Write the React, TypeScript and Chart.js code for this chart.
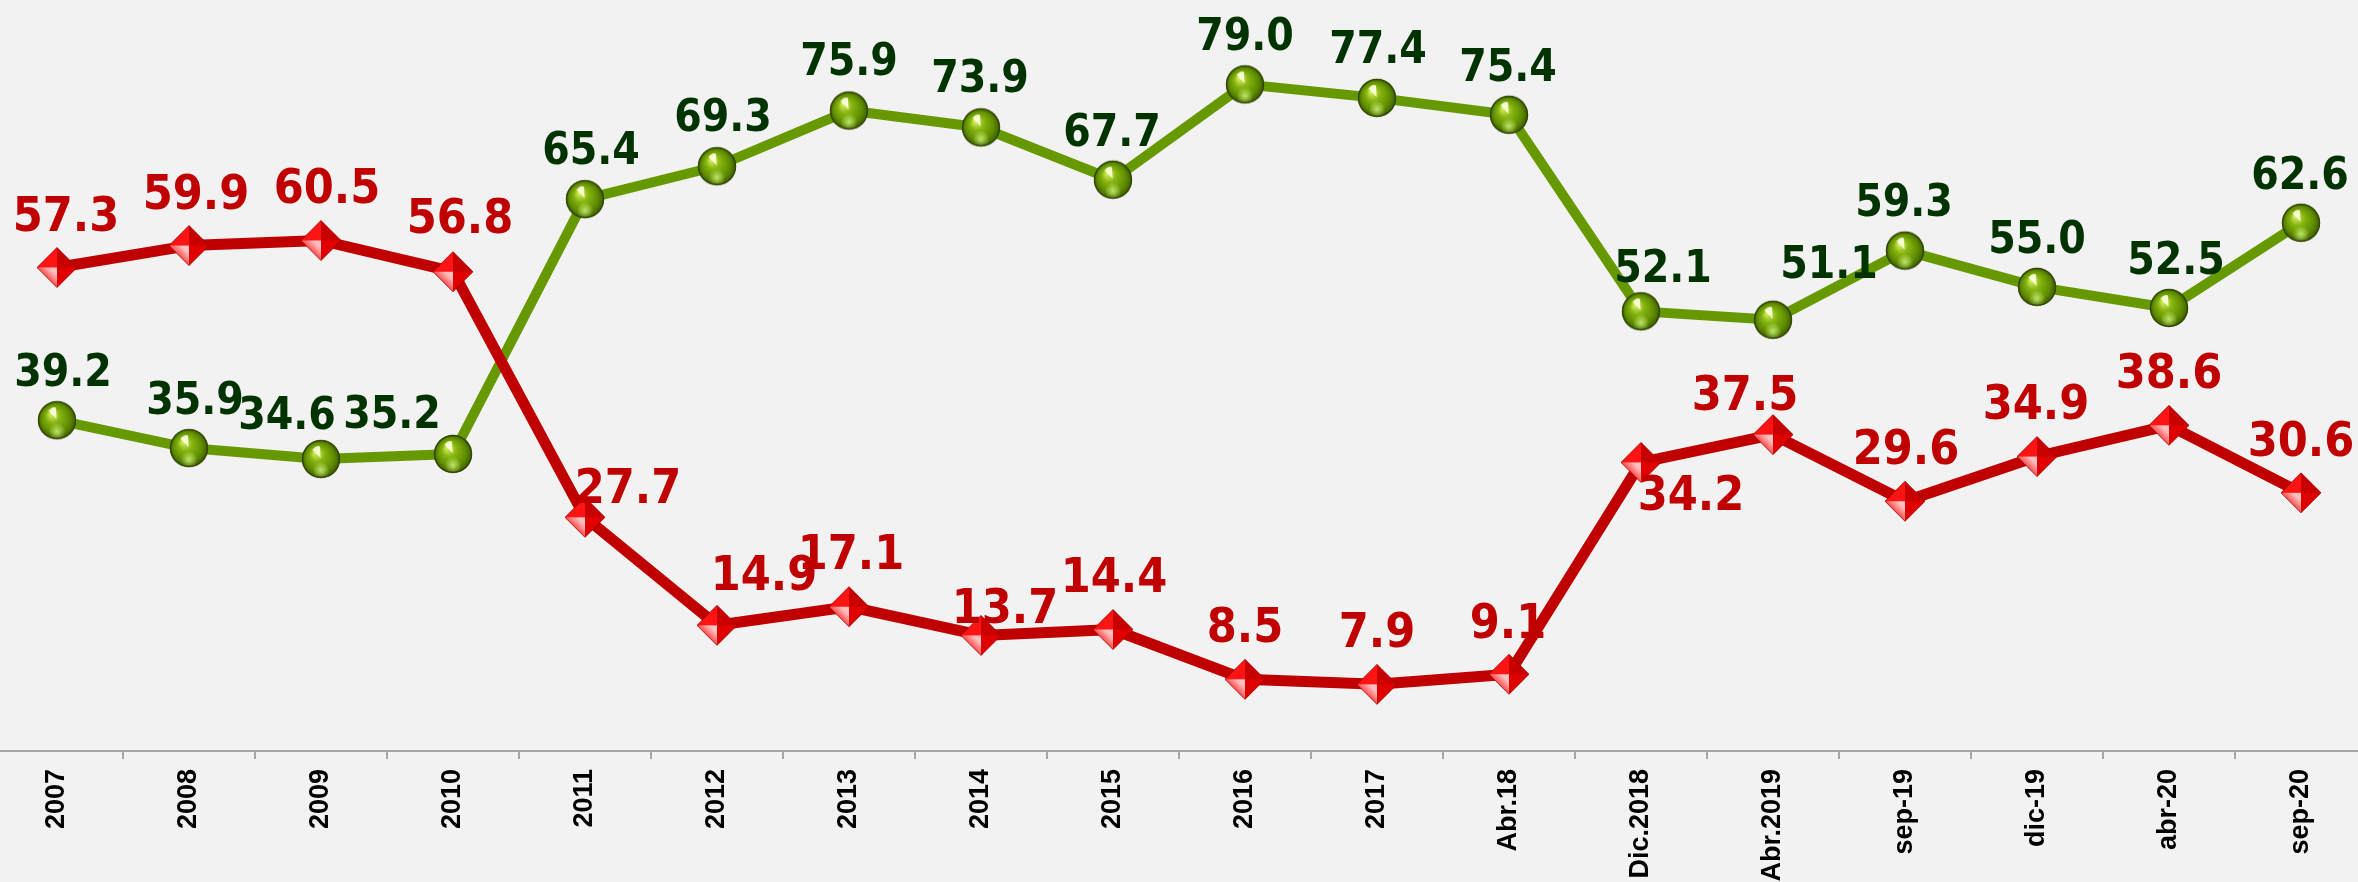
import React, { useEffect, useRef } from 'react';
import { Chart, registerables } from 'chart.js';

Chart.register(...registerables);

const categories = ['2007', '2008', '2009', '2010', '2011', '2012', '2013', '2014', '2015', '2016', '2017', 'Abr.18', 'Dic.2018', 'Abr.2019', 'sep-19', 'dic-19', 'abr-20', 'sep-20'];
const greenValues = [39.2, 35.9, 34.6, 35.2, 65.4, 69.3, 75.9, 73.9, 67.7, 79.0, 77.4, 75.4, 52.1, 51.1, 59.3, 55.0, 52.5, 62.6];
const redValues = [57.3, 59.9, 60.5, 56.8, 27.7, 14.9, 17.1, 13.7, 14.4, 8.5, 7.9, 9.1, 34.2, 37.5, 29.6, 34.9, 38.6, 30.6];

// label placement (offset of label centre from its point, in px)
const greenLabelOffsets = [[6, -50], [6, -50], [-34, -46], [-61, -42], [6, -51], [6, -51], [0, -52], [-1, -51], [-1, -50], [0, -50], [1, -51], [-1, -50], [22, -45], [56, -58], [-1, -51], [0, -50], [7, -50], [-1, -50]];
const redLabelOffsets = [[9, -54], [7, -54], [6, -55], [7, -56], [43, -32], [47, -53], [2, -55], [24, -30], [1, -55], [0, -55], [0, -55], [-1, -54], [50, 30], [-28, -42], [1, -55], [-1, -55], [0, -55], [0, -54]];

function makeSphere(r: number): HTMLCanvasElement {
  const c = document.createElement('canvas');
  const s = Math.ceil(r * 2 + 4);
  c.width = s; c.height = s;
  const ctx = c.getContext('2d')!;
  const cx = s / 2, cy = s / 2;
  const g = ctx.createRadialGradient(cx - r * 0.3, cy - r * 0.35, r * 0.05, cx, cy, r);
  g.addColorStop(0, '#d4f060');
  g.addColorStop(0.35, '#86b410');
  g.addColorStop(0.75, '#5f8c00');
  g.addColorStop(1, '#3d5a00');
  ctx.beginPath();
  ctx.arc(cx, cy, r, 0, Math.PI * 2);
  ctx.fillStyle = g;
  ctx.fill();
  const g2 = ctx.createRadialGradient(cx, cy + r * 0.6, 0, cx, cy + r * 0.6, r * 0.45);
  g2.addColorStop(0, 'rgba(220,255,140,0.75)');
  g2.addColorStop(1, 'rgba(220,255,140,0)');
  ctx.fillStyle = g2;
  ctx.beginPath();
  ctx.arc(cx, cy, r - 1, 0, Math.PI * 2);
  ctx.fill();
  ctx.beginPath();
  ctx.moveTo(cx - r * 0.45, cy - r * 0.5);
  ctx.quadraticCurveTo(cx - r * 0.2, cy - r * 0.75, cx - r * 0.05, cy - r * 0.65);
  ctx.lineTo(cx - r * 0.02, cy - r * 0.05);
  ctx.closePath();
  ctx.fillStyle = 'rgba(255,255,225,0.9)';
  ctx.fill();
  ctx.beginPath();
  ctx.arc(cx, cy, r - 0.5, 0, Math.PI * 2);
  ctx.strokeStyle = 'rgba(45,65,0,0.85)';
  ctx.lineWidth = 1.5;
  ctx.stroke();
  return c;
}

function makeDiamond(r: number): HTMLCanvasElement {
  const c = document.createElement('canvas');
  const s = Math.ceil(r * 2 + 4);
  c.width = s; c.height = s;
  const ctx = c.getContext('2d')!;
  const cx = s / 2, cy = s / 2;
  const T = [cx, cy - r], R = [cx + r, cy], B = [cx, cy + r], L = [cx - r, cy];
  const face = (a: number[], b: number[], fill: string | CanvasGradient) => {
    ctx.beginPath();
    ctx.moveTo(cx, cy);
    ctx.lineTo(a[0], a[1]);
    ctx.lineTo(b[0], b[1]);
    ctx.closePath();
    ctx.fillStyle = fill;
    ctx.fill();
  };
  face(L, T, '#ff1414');
  face(T, R, '#c80000');
  face(R, B, '#e00000');
  const g = ctx.createLinearGradient(cx - r * 0.2, cy + r * 0.2, cx - r * 0.6, cy + r * 0.6);
  g.addColorStop(0, '#ffc0c0');
  g.addColorStop(1, '#ff2a2a');
  face(B, L, g);
  ctx.beginPath();
  ctx.moveTo(T[0], T[1]); ctx.lineTo(R[0], R[1]); ctx.lineTo(B[0], B[1]); ctx.lineTo(L[0], L[1]); ctx.closePath();
  ctx.strokeStyle = 'rgba(150,0,0,0.8)';
  ctx.lineWidth = 1;
  ctx.stroke();
  return c;
}

const labelPlugin = {
  id: 'valueLabels',
  afterDatasetsDraw(chart: any) {
    const ctx = chart.ctx;
    const cfgs = [
      { ds: 0, values: redValues, offsets: redLabelOffsets, color: '#c00000', size: 48 },
      { ds: 1, values: greenValues, offsets: greenLabelOffsets, color: '#003300', size: 44 },
    ];
    for (const cfg of cfgs) {
      const meta = chart.getDatasetMeta(cfg.ds);
      meta.data.forEach((pt: any, i: number) => {
        const [dx, dy] = cfg.offsets[i];
        const x = pt.x + dx;
        const y = pt.y + dy + cfg.size * 0.729 / 2;
        ctx.save();
        ctx.translate(x, y);
        ctx.scale(0.9, 1);
        ctx.font = `bold ${cfg.size}px "DejaVu Sans", Verdana, sans-serif`;
        ctx.fillStyle = cfg.color;
        ctx.textAlign = 'center';
        ctx.textBaseline = 'alphabetic';
        ctx.fillText(cfg.values[i].toFixed(1), 0, 0);
        ctx.restore();
      });
    }
  },
};

const bgPlugin = {
  id: 'bg',
  beforeDraw(chart: any) {
    const ctx = chart.ctx;
    ctx.save();
    ctx.fillStyle = '#f2f2f2';
    ctx.fillRect(0, 0, chart.width, chart.height);
    ctx.restore();
  },
};

export default function App() {
  const ref = useRef<HTMLCanvasElement | null>(null);
  useEffect(() => {
    if (!ref.current) return;
    const sphere = makeSphere(19);
    const diamond = makeDiamond(20);
    const chart = new Chart(ref.current, {
      type: 'line',
      data: {
        labels: categories,
        datasets: [
          {
            label: 'rojo',
            data: redValues,
            borderColor: '#c00000',
            backgroundColor: '#c00000',
            borderWidth: 11,
            pointStyle: diamond as any,
            pointRadius: 20,
            pointHoverRadius: 20,
            tension: 0,
            fill: false,
            borderJoinStyle: 'round',
            clip: false as any,
          },
          {
            label: 'verde',
            data: greenValues,
            borderColor: '#669900',
            backgroundColor: '#669900',
            borderWidth: 10,
            pointStyle: sphere as any,
            pointRadius: 19,
            pointHoverRadius: 19,
            tension: 0,
            fill: false,
            borderJoinStyle: 'round',
            clip: false as any,
          },
        ],
      },
      options: {
        responsive: false,
        animation: false,
        devicePixelRatio: 1,
        layout: { padding: 0, autoPadding: false },
        plugins: { legend: { display: false }, tooltip: { enabled: false } },
        scales: {
          y: { display: false, min: 0, max: 89 },
          x: {
            offset: true,
            afterFit: (scale: any) => {
              scale.height = 131;
              scale.paddingLeft = 0;
              scale.paddingRight = 0;
              scale.paddingTop = 0;
              scale.paddingBottom = 0;
            },
            grid: { display: true, drawOnChartArea: false, drawTicks: true, tickLength: 8, color: '#a6a6a6', lineWidth: 2, offset: true },
            border: { display: true, color: '#a6a6a6', width: 2 },
            ticks: {
              autoSkip: false,
              minRotation: 90,
              maxRotation: 90,
              padding: 10,
              color: '#000000',
              font: { family: '"Liberation Sans", Arial, sans-serif', weight: 'bold', size: 27 },
            },
          },
        },
      },
      plugins: [bgPlugin, labelPlugin],
    });
    let alive = true;
    if ((document as any).fonts && (document as any).fonts.load) {
      Promise.all([
        (document as any).fonts.load('bold 48px "DejaVu Sans"'),
        (document as any).fonts.load('bold 27px "Liberation Sans"'),
      ]).then(() => { if (alive) chart.update(); }).catch(() => {});
    }
    return () => { alive = false; chart.destroy(); };
  }, []);
  return (
    <div style={{ position: 'fixed', left: -9, top: 0, width: 2376, height: 882, background: '#f2f2f2' }}>
      <canvas ref={ref} width={2376} height={882} style={{ display: 'block' }} />
    </div>
  );
}
